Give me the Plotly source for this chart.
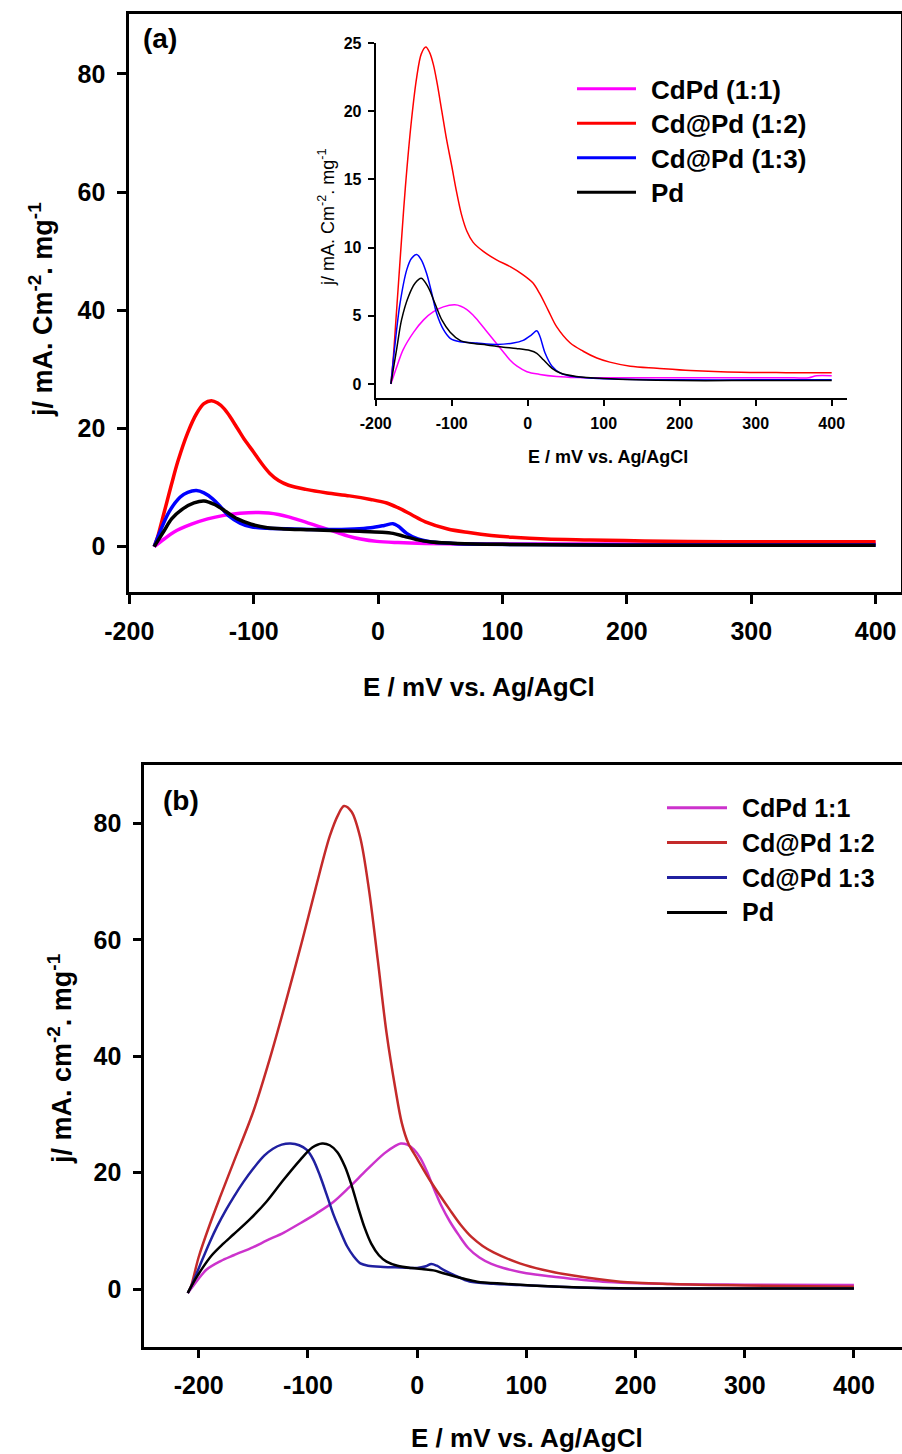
import plotly.graph_objects as go

# ---------------- Panel (a) data (main plot and inset share the curves) ----------------
a_E_cdpd11 = [-180, -172, -164, -150, -137, -124, -111, -96, -88, -80, -72, -64, -56, -48, -40, -32, -24, -14, -1, 16, 38, 64, 100, 150, 200, 250, 300, 350, 370, 380, 400]
a_j_cdpd11 = [0, 1.3, 2.5, 3.8, 4.7, 5.3, 5.65, 5.8, 5.7, 5.45, 5.05, 4.55, 4.0, 3.45, 2.9, 2.35, 1.8, 1.3, 0.9, 0.7, 0.55, 0.47, 0.45, 0.45, 0.45, 0.45, 0.45, 0.45, 0.46, 0.6, 0.6]

a_E_cdpd12 = [-180, -177, -174, -170, -166, -161, -153, -146, -140, -134, -129, -124, -119, -113, -107, -100, -94, -87, -80, -72, -58, -41, -23, -6, 7, 16, 27, 38, 56, 73, 91, 108, 135, 170, 214, 280, 340, 400]
a_j_cdpd12 = [0, 1.8, 4.2, 7.4, 10.6, 14.4, 19.3, 22.5, 24.2, 24.7, 24.3, 23.4, 22.0, 20.0, 18.0, 16.0, 14.2, 12.4, 11.2, 10.4, 9.7, 9.1, 8.6, 8.0, 7.4, 6.6, 5.4, 4.2, 3.0, 2.4, 1.9, 1.6, 1.3, 1.15, 0.98, 0.85, 0.83, 0.83]

a_E_cdpd13 = [-180, -175, -168, -159, -153, -146, -140, -133, -126, -120, -111, -102, -89, -67, -41, -19, -6, 5, 12, 16, 23, 32, 43, 60, 86, 124, 200, 300, 400]
a_j_cdpd13 = [0, 2.7, 5.9, 8.4, 9.2, 9.5, 9.1, 8.1, 6.6, 5.2, 4.0, 3.35, 3.1, 3.0, 2.9, 3.0, 3.2, 3.6, 3.9, 3.5, 2.25, 1.3, 0.8, 0.55, 0.42, 0.35, 0.3, 0.3, 0.3]

a_E_pd = [-180, -172, -166, -157, -148, -140, -131, -122, -113, -102, -89, -76, -54, -32, -15, 3, 12, 21, 32, 43, 64, 100, 200, 300, 400]
a_j_pd = [0, 2.7, 4.7, 6.4, 7.4, 7.75, 7.1, 5.9, 4.7, 3.8, 3.2, 3.0, 2.86, 2.7, 2.6, 2.45, 2.25, 1.75, 1.15, 0.8, 0.55, 0.4, 0.25, 0.25, 0.25]

a_names = ["CdPd (1:1)", "Cd@Pd (1:2)", "Cd@Pd (1:3)", "Pd"]
a_colors = ["#FF00FF", "#FF0000", "#0000FF", "#000000"]

# ---------------- Panel (b) data ----------------
b_E_cdpd11 = [-210, -206, -193, -180, -168, -150, -138, -122, -107, -92, -77, -62, -46, -30, -20, -15, -9, -3, 3, 9, 15, 22, 30, 38, 47, 57, 68, 79, 100, 125, 170, 232, 300, 400]
b_j_cdpd11 = [-0.7, 0.3, 3.3, 4.8, 5.8, 7.2, 8.3, 9.7, 11.3, 13.0, 14.9, 17.5, 20.5, 23.3, 24.6, 25.0, 24.8, 24.0, 22.5, 20.2, 17.4, 14.4, 11.6, 9.3, 7.0, 5.4, 4.3, 3.6, 2.7, 2.1, 1.26, 0.86, 0.75, 0.7]

b_E_cdpd12 = [-210, -207, -200, -190, -180, -168, -150, -135, -120, -105, -93, -80, -72, -67, -60, -52, -44, -36, -28, -20, -14, -8, 0, 12, 30, 40, 50, 60, 70, 94, 115, 140, 186, 232, 300, 400]
b_j_cdpd12 = [-0.7, 0.5, 5.5, 11.0, 16.0, 21.8, 30.5, 39.5, 49.5, 60.0, 68.8, 77.8, 81.6, 83.0, 82.0, 77.5, 68.5, 56.5, 44.0, 34.5, 28.5, 25.0, 22.4, 18.6, 13.6, 11.0, 8.9, 7.4, 6.3, 4.4, 3.3, 2.4, 1.26, 0.86, 0.6, 0.4]

b_E_cdpd13 = [-210, -207, -199, -190, -183, -175, -168, -159, -150, -140, -132, -124, -116, -108, -101, -95, -89, -83, -77, -70, -64, -58, -52, -45, -31, -15, 0, 8, 13, 18, 25, 35, 48, 70, 94, 130, 170, 250, 400]
b_j_cdpd13 = [-0.7, 0.4, 4.0, 8.0, 10.8, 13.6, 15.8, 18.4, 20.7, 22.9, 24.1, 24.8, 25.0, 24.7, 23.9, 22.2, 19.5, 16.3, 13.0, 9.8, 7.3, 5.6, 4.4, 4.0, 3.8, 3.7, 3.6, 3.9, 4.3, 4.0, 3.2, 2.3, 1.3, 0.9, 0.69, 0.4, 0.15, 0.1, 0.1]

b_E_pd = [-210, -207, -198, -188, -178, -168, -153, -138, -123, -107, -96, -87, -80, -73, -66, -60, -54, -48, -42, -35, -28, -18, -5, 6, 15, 24, 42, 55, 80, 110, 150, 200, 400]
b_j_pd = [-0.7, 0.4, 3.2, 5.8, 7.7, 9.4, 12.0, 15.0, 18.6, 22.2, 24.3, 25.0, 24.7, 23.5, 21.0, 17.8, 14.0, 10.5, 7.8, 5.8, 4.7, 4.0, 3.6, 3.4, 3.2, 2.7, 1.8, 1.26, 0.9, 0.55, 0.25, 0.1, 0.1]

b_names = ["CdPd 1:1", "Cd@Pd 1:2", "Cd@Pd 1:3", "Pd"]
b_colors = ["#CC33CC", "#C42A2A", "#2020A0", "#000000"]

x_tick_vals = [-200, -100, 0, 100, 200, 300, 400]
x_tick_text = ["-200", "-100", "0", "100", "200", "300", "400"]
y_ticks_main = [0, 20, 40, 60, 80]
y_ticks_inset = [0, 5, 10, 15, 20, 25]

# ---------------- figure ----------------
W, H = 902, 1454
FONT = "Liberation Sans, Arial, sans-serif"


def px(x):
    return x / W


def py(y):
    return 1 - y / H


fig = go.Figure()

a_series = [(a_E_cdpd11, a_j_cdpd11), (a_E_cdpd12, a_j_cdpd12), (a_E_cdpd13, a_j_cdpd13), (a_E_pd, a_j_pd)]
b_series = [(b_E_cdpd11, b_j_cdpd11), (b_E_cdpd12, b_j_cdpd12), (b_E_cdpd13, b_j_cdpd13), (b_E_pd, b_j_pd)]

for (E, j), name, col in zip(a_series, a_names, a_colors):
    fig.add_trace(go.Scatter(x=E, y=j, mode="lines", name=name, showlegend=False,
                             line=dict(color=col, width=3.5, shape="spline", smoothing=0.9),
                             xaxis="x", yaxis="y"))
for (E, j), name, col in zip(a_series, a_names, a_colors):
    fig.add_trace(go.Scatter(x=E, y=j, mode="lines", name=name, showlegend=False,
                             line=dict(color=col, width=1.5, shape="spline", smoothing=0.9),
                             xaxis="x2", yaxis="y2"))
for (E, j), name, col in zip(b_series, b_names, b_colors):
    fig.add_trace(go.Scatter(x=E, y=j, mode="lines", name=name, showlegend=False,
                             line=dict(color=col, width=2.5, shape="spline", smoothing=0.9),
                             xaxis="x3", yaxis="y3"))

bold25 = dict(family=FONT, size=25, color="black", weight="bold")
bold16 = dict(family=FONT, size=16, color="black", weight="bold")

common = dict(showgrid=False, zeroline=False, showline=True, linecolor="black", ticks="outside",
              tickcolor="black", automargin=False)

fig.update_layout(
    width=W, height=H, autosize=False,
    margin=dict(l=0, r=0, t=0, b=0, pad=0, autoexpand=False),
    paper_bgcolor="white", plot_bgcolor="rgba(0,0,0,0)",
    showlegend=False,
    xaxis=dict(domain=[px(129.3), px(900.5)], range=[-200, 420], anchor="y", mirror=True,
               linewidth=3, ticklen=9, tickwidth=2.5, tickvals=x_tick_vals, ticktext=x_tick_text,
               tickfont=bold25, ticklabelstandoff=6, **common),
    yaxis=dict(domain=[py(591.6), py(14.3)], range=[-7.6, 90.1], anchor="x", mirror=True,
               linewidth=3, ticklen=9, tickwidth=2.5, tickvals=y_ticks_main, tickfont=bold25,
               ticklabelstandoff=7, **common),
    xaxis2=dict(domain=[px(375.7), px(846.9)], range=[-200, 420], anchor="y2", mirror=False,
                linewidth=2, ticklen=6, tickwidth=2, tickvals=x_tick_vals, ticktext=x_tick_text,
                tickfont=bold16, ticklabelstandoff=4, **common),
    yaxis2=dict(domain=[py(397.6), py(43)], range=[-1, 25], anchor="x2", mirror=False,
                linewidth=2, ticklen=6, tickwidth=2, tickvals=y_ticks_inset, tickfont=bold16,
                ticklabelstandoff=3, **common),
    xaxis3=dict(domain=[px(144.1), 1.0], range=[-250, 444], anchor="y3", mirror=True,
                linewidth=2.5, ticklen=8, tickwidth=2.5, tickvals=x_tick_vals, ticktext=x_tick_text,
                tickfont=bold25, ticklabelstandoff=6, **common),
    yaxis3=dict(domain=[py(1347.2), py(765.2)], range=[-10, 90], anchor="x3", mirror=False,
                linewidth=2.5, ticklen=8, tickwidth=2.5, tickvals=y_ticks_main, tickfont=bold25,
                ticklabelstandoff=7, **common),
)

ann = []


def add_text(text, x, y, size, bold=True, angle=0, xanchor="center", yanchor="middle"):
    ann.append(dict(text=text, x=px(x), y=py(y), xref="paper", yref="paper", showarrow=False,
                    xanchor=xanchor, yanchor=yanchor, textangle=angle, borderpad=0,
                    font=dict(family=FONT, size=size, color="black",
                              weight="bold" if bold else "normal")))


add_text("(a)", 160, 38, 28)
add_text("(b)", 181, 801, 28)
add_text("E / mV vs. Ag/AgCl", 479, 687, 26)
add_text("E / mV vs. Ag/AgCl", 526.5, 1438, 26)
add_text("j/ mA. Cm<sup>-2</sup>. mg<sup>-1</sup>", 41, 310, 27, angle=-90)
add_text("j/ mA. cm<sup>-2</sup>. mg<sup>-1</sup>", 60, 1059, 27, angle=-90)
add_text("E / mV vs. Ag/AgCl", 607.5, 457, 18)
add_text("j/ mA. Cm<sup>-2</sup>. mg<sup>-1</sup>", 326, 218, 18, bold=False, angle=-90)

shapes = []
for k, (name, col) in enumerate(zip(a_names, a_colors)):
    yy = 88.7 + k * 34.5
    shapes.append(dict(type="line", xref="paper", yref="paper", x0=px(577), x1=px(636),
                       y0=py(yy), y1=py(yy), line=dict(color=col, width=3)))
    add_text(name, 650, yy + 1, 26, xanchor="left")
for k, (name, col) in enumerate(zip(b_names, b_colors)):
    yy = 807.7 + k * 34.9
    shapes.append(dict(type="line", xref="paper", yref="paper", x0=px(667), x1=px(727),
                       y0=py(yy), y1=py(yy), line=dict(color=col, width=3)))
    add_text(name, 741, yy, 25, xanchor="left")

fig.update_layout(annotations=ann, shapes=shapes)

fig.write_html("out.html")
